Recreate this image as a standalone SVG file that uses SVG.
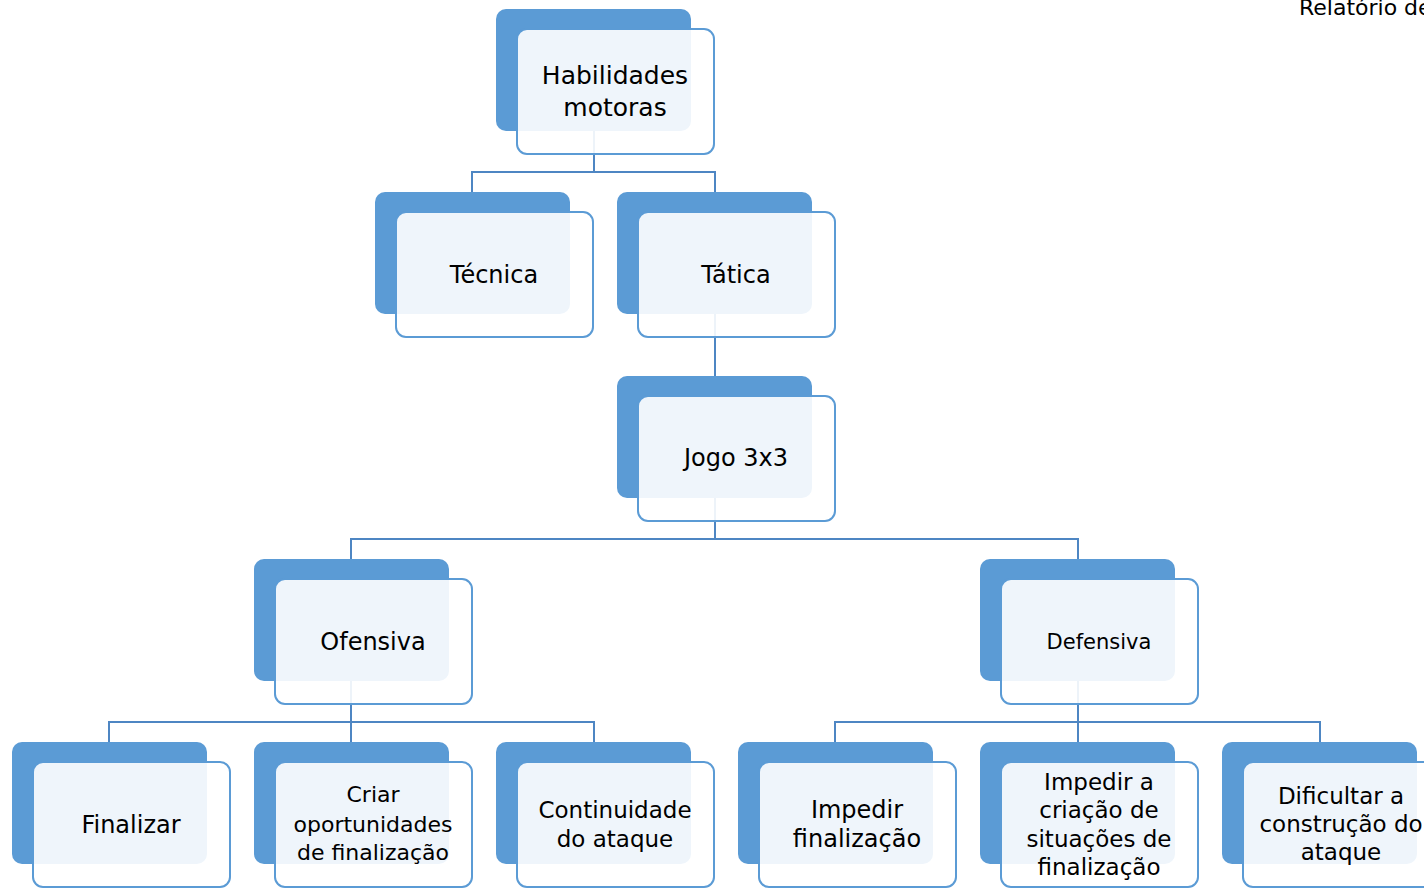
<svg xmlns="http://www.w3.org/2000/svg" width="1424" height="888" viewBox="0 0 1424 888">
<style>
.bk{fill:#5B9BD5}
.fr{fill:#fff;fill-opacity:0.9;stroke:#5B9BD5;stroke-width:2}
.t{font-family:"DejaVu Sans",sans-serif;fill:#000;text-anchor:middle}
.c{fill:none;stroke:#4E86C3;stroke-width:2}
</style>
<rect width="1424" height="888" fill="#fff"/>
<text x="1299" y="15" font-family="DejaVu Sans, sans-serif" font-size="22" fill="#000">Relatório de</text>
<g id="connectors">
<path class="c" d="M594 131V172M472 192V172H715V192"/>
<path class="c" d="M715 314V376"/>
<path class="c" d="M715 498V539M351 559V539H1078V559"/>
<path class="c" d="M351 681V722M109 742V722H594V742M351 722V742"/>
<path class="c" d="M1078 681V722M835 742V722H1320V742M1078 722V742"/>
</g>
<g id="n1"><rect class="bk" x="496" y="9" width="195" height="122" rx="10"/><rect class="fr" x="517" y="29" width="197" height="125" rx="10"/><text class="t" font-size="25"><tspan x="615" y="84">Habilidades</tspan><tspan x="615" y="116">motoras</tspan></text></g>
<g id="n2"><rect class="bk" x="375" y="192" width="195" height="122" rx="10"/><rect class="fr" x="396" y="212" width="197" height="125" rx="10"/><text class="t" font-size="24" x="494" y="283">Técnica</text></g>
<g id="n3"><rect class="bk" x="617" y="192" width="195" height="122" rx="10"/><rect class="fr" x="638" y="212" width="197" height="125" rx="10"/><text class="t" font-size="24" x="736" y="283">Tática</text></g>
<g id="n4"><rect class="bk" x="617" y="376" width="195" height="122" rx="10"/><rect class="fr" x="638" y="396" width="197" height="125" rx="10"/><text class="t" font-size="24" x="736" y="466">Jogo 3x3</text></g>
<g id="n5"><rect class="bk" x="254" y="559" width="195" height="122" rx="10"/><rect class="fr" x="275" y="579" width="197" height="125" rx="10"/><text class="t" font-size="24" x="373" y="650">Ofensiva</text></g>
<g id="n6"><rect class="bk" x="980" y="559" width="195" height="122" rx="10"/><rect class="fr" x="1001" y="579" width="197" height="125" rx="10"/><text class="t" font-size="21" x="1099" y="649">Defensiva</text></g>
<g id="n7"><rect class="bk" x="12" y="742" width="195" height="122" rx="10"/><rect class="fr" x="33" y="762" width="197" height="125" rx="10"/><text class="t" font-size="24" x="131" y="833">Finalizar</text></g>
<g id="n8"><rect class="bk" x="254" y="742" width="195" height="122" rx="10"/><rect class="fr" x="275" y="762" width="197" height="125" rx="10"/><text class="t" font-size="22"><tspan x="373" y="802">Criar</tspan><tspan x="373" y="832">oportunidades</tspan><tspan x="373" y="860">de finalização</tspan></text></g>
<g id="n9"><rect class="bk" x="496" y="742" width="195" height="122" rx="10"/><rect class="fr" x="517" y="762" width="197" height="125" rx="10"/><text class="t" font-size="23"><tspan x="615" y="818">Continuidade</tspan><tspan x="615" y="847">do ataque</tspan></text></g>
<g id="n10"><rect class="bk" x="738" y="742" width="195" height="122" rx="10"/><rect class="fr" x="759" y="762" width="197" height="125" rx="10"/><text class="t" font-size="24"><tspan x="857" y="818">Impedir</tspan><tspan x="857" y="847">finalização</tspan></text></g>
<g id="n11"><rect class="bk" x="980" y="742" width="195" height="122" rx="10"/><rect class="fr" x="1001" y="762" width="197" height="125" rx="10"/><text class="t" font-size="23"><tspan x="1099" y="790">Impedir a</tspan><tspan x="1099" y="818">criação de</tspan><tspan x="1099" y="847">situações de</tspan><tspan x="1099" y="875">finalização</tspan></text></g>
<g id="n12"><rect class="bk" x="1222" y="742" width="195" height="122" rx="10"/><rect class="fr" x="1243" y="762" width="197" height="125" rx="10"/><text class="t" font-size="23"><tspan x="1341" y="804">Dificultar a</tspan><tspan x="1341" y="832">construção do</tspan><tspan x="1341" y="860">ataque</tspan></text></g>
</svg>
